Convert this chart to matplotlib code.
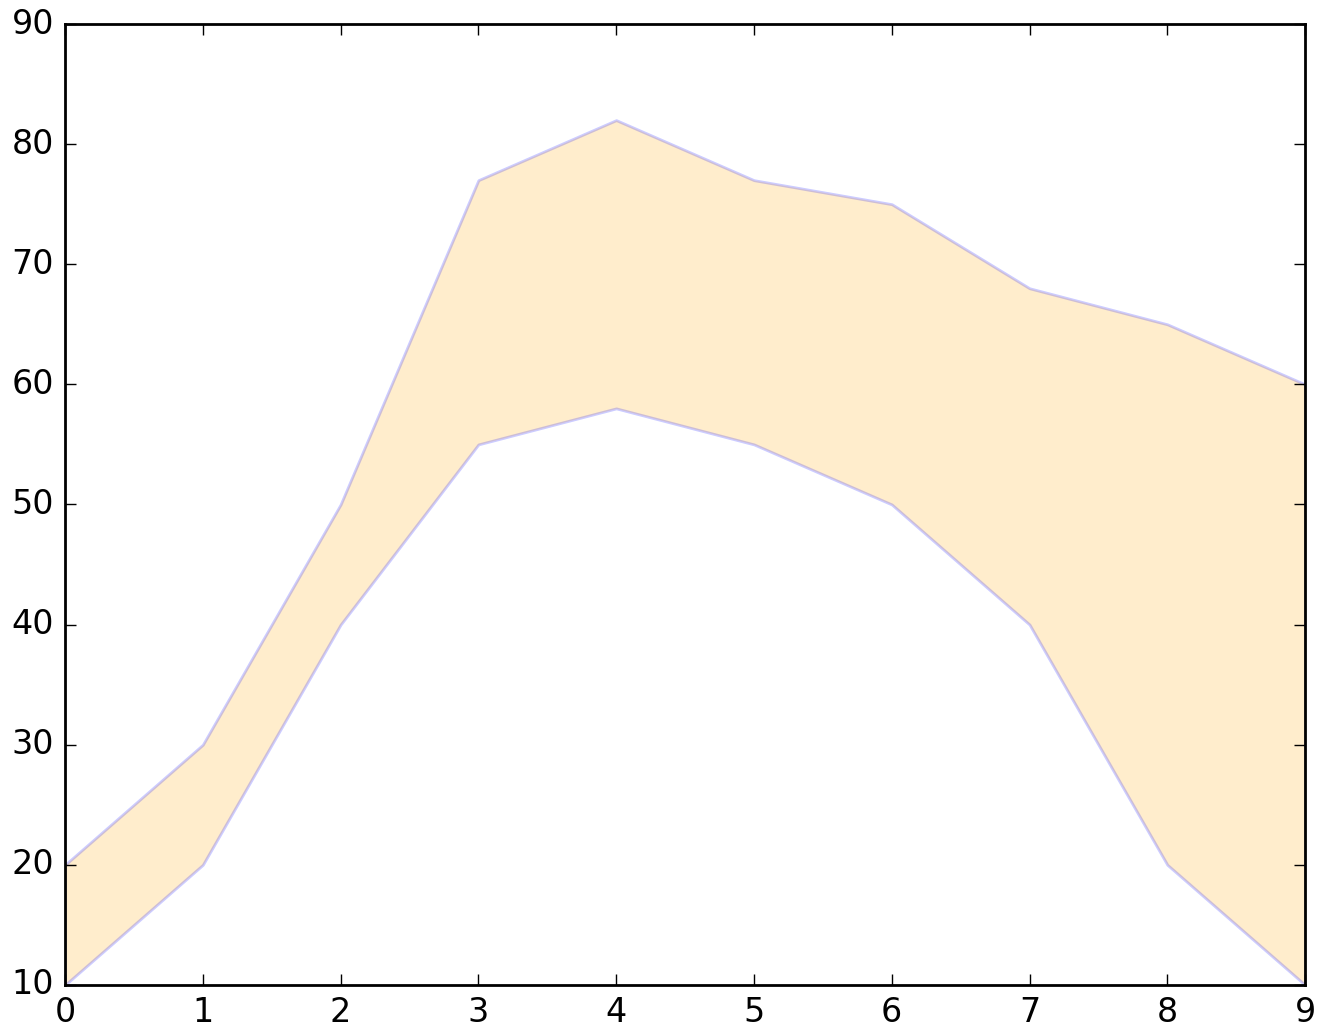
import matplotlib
matplotlib.use("Agg")
import matplotlib.pyplot as plt

x = [0, 1, 2, 3, 4, 5, 6, 7, 8, 9]
lower = [10, 20, 40, 55, 58, 55, 50, 40, 20, 10]
upper = [20, 30, 50, 77, 82, 77, 75, 68, 65, 60]

plt.style.use('classic')
fig = plt.figure(figsize=(6.635, 5.135), dpi=200, facecolor='white')
ax = fig.add_axes([0.049, 0.041, 0.9345, 0.9356])
ax.fill_between(x, lower, upper, facecolor='orange', edgecolor='blue', alpha=0.2)
ax.set_xlim(0, 9)
ax.set_ylim(10, 90)
ax.set_facecolor('white')
fig.savefig('out.png', dpi=200, facecolor='white')
